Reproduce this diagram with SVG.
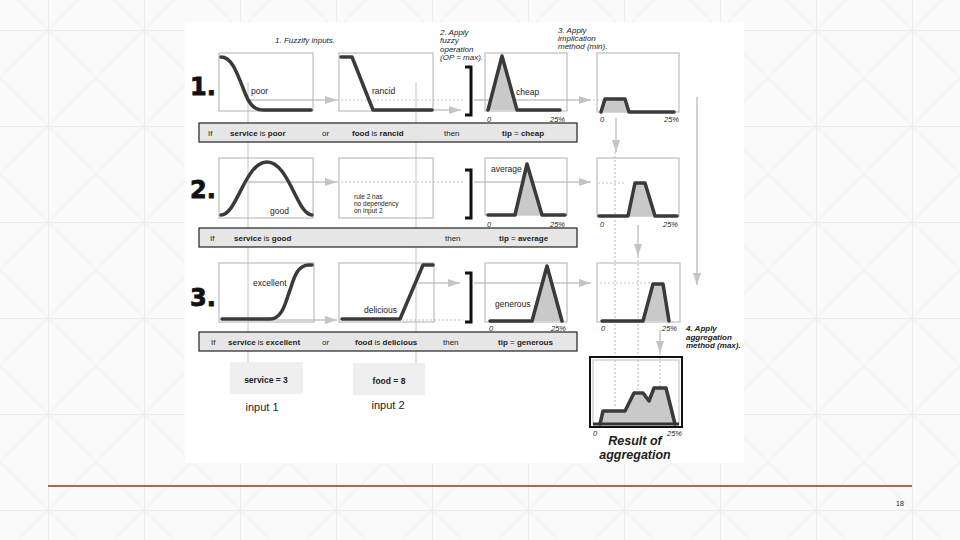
<svg xmlns="http://www.w3.org/2000/svg" width="960" height="540" viewBox="0 0 960 540">
<defs>
<pattern id="grid" x="48" y="30" width="96" height="96" patternUnits="userSpaceOnUse">
<path d="M0,0.5 H96 M0.5,0 V96 M0,0 L96,96 M96,0 L0,96" stroke="#ececec" stroke-width="1" fill="none"/>
</pattern>
<marker id="ah" markerUnits="userSpaceOnUse" markerWidth="12" markerHeight="8" refX="12" refY="4" orient="auto">
<path d="M0,0 L12,4 L0,8 Z" fill="#c4c4c4"/>
</marker>
</defs>
<style>
text{font-family:"Liberation Sans",Arial,sans-serif;fill:#222}
.box{fill:none;stroke:#b0b0b0;stroke-width:1}
.mf{fill:none;stroke:#3a3a3a;stroke-width:3.5;stroke-linejoin:round;stroke-linecap:round}
.sh{fill:#c9c9c9;stroke:none}
.lbl{font-size:8.5px}
.ax{font-size:7.5px;font-style:italic}
.bar{fill:#e6e6e6;stroke:#222;stroke-width:1.2}
.bt{font-size:8px}
.b{font-weight:bold}
.br{fill:none;stroke:#111;stroke-width:3}
.step{font-size:8px;font-style:italic}
.num{font-family:"DejaVu Sans",sans-serif;font-weight:bold;font-size:24px;fill:#111;stroke:#111;stroke-width:0.8}
.ar{fill:none;stroke:#c4c4c4;stroke-width:1.5}
.dt{fill:none;stroke:#c4c4c4;stroke-width:1.2;stroke-dasharray:2,2}
.vl{fill:none;stroke:#c4c4c4;stroke-width:1}
</style>
<rect width="960" height="540" fill="#fafafa"/>
<rect width="960" height="540" fill="url(#grid)"/>
<rect x="185" y="22" width="559" height="441" fill="#ffffff"/>

<g id="connectors">
<path class="vl" d="M248,82 V362 M416,82 V363"/>
<path class="ar" d="M248,100 H337" marker-end="url(#ah)"/>
<path class="dt" d="M337,100 H463"/>
<path class="ar" d="M433,110 H461" marker-end="url(#ah)"/>
<path class="ar" d="M474,100 H591" marker-end="url(#ah)"/>
<path class="dt" d="M593,100 H606"/>
<path class="ar" d="M248,182 H337" marker-end="url(#ah)"/>
<path class="dt" d="M337,182 H463"/>
<path class="ar" d="M474,182 H591" marker-end="url(#ah)"/>
<path class="dt" d="M598,183 H625"/>
<path class="ar" d="M248,320 H337" marker-end="url(#ah)"/>
<path class="dt" d="M402,320 H463"/>
<path class="ar" d="M418,283 H460" marker-end="url(#ah)"/>
<path class="ar" d="M474,283 H591" marker-end="url(#ah)"/>
<path class="dt" d="M600,283 H652"/>
<path class="ar" d="M616,118 V152" marker-end="url(#ah)"/>
<path class="dt" d="M615,152 V408"/>
<path class="ar" d="M638,225 V256" marker-end="url(#ah)"/>
<path class="dt" d="M638,256 V393"/>
<path class="ar" d="M660,330 V353" marker-end="url(#ah)"/>
<path class="dt" d="M660,353 V388"/>
<path class="ar" d="M697,97 V285" marker-end="url(#ah)"/>
</g>

<g id="labels">
<text class="step" x="275" y="43">1. Fuzzify inputs.</text>
<text class="step" x="440" y="35">2. Apply</text>
<text class="step" x="440" y="43">fuzzy</text>
<text class="step" x="440" y="52">operation</text>
<text class="step" x="440" y="60">(OP = max).</text>
<text class="step" x="558" y="33">3. Apply</text>
<text class="step" x="558" y="41">implication</text>
<text class="step" x="558" y="49">method (min).</text>
<text class="step b" x="686" y="331">4. Apply</text>
<text class="step b" x="686" y="340">aggregation</text>
<text class="step b" x="686" y="348">method (max).</text>
<text class="num" x="190" y="95">1.</text>
<text class="num" x="190" y="198">2.</text>
<text class="num" x="190" y="306">3.</text>
</g>

<g id="r1-service">
<rect class="box" x="219" y="53" width="94" height="58"/>
<path class="mf" d="M221,57 C231,57 236,70 243,88 C249,104 253,110 264,110 L311,110"/>
<text class="lbl" x="251" y="94">poor</text>
</g>
<g id="r1-food">
<rect class="box" x="339" y="53" width="94" height="58"/>
<path class="mf" d="M341,57 L352,57 L373,110 L432,110"/>
<text class="lbl" x="372" y="94">rancid</text>
</g>
<g id="r1-op"><path class="br" d="M465,67 H471 V115 H465"/></g>
<g id="r1-tip">
<rect class="box" x="485" y="53" width="82" height="58"/>
<path class="sh" d="M488,110 L502,56 L517,110 Z"/>
<path class="mf" d="M488,110 L502,56 L517,110 L560,110"/>
<text class="lbl" x="516" y="95">cheap</text>
<text class="ax" x="487" y="122">0</text>
<text class="ax" x="565" y="122" text-anchor="end">25%</text>
</g>
<g id="r1-impl">
<rect class="box" x="597" y="53" width="82" height="59"/>
<path class="sh" d="M601,112 L605,99 L625,99 L629,112 Z"/>
<path class="mf" d="M601,112 L605,99 L625,99 L629,112 L674,112"/>
<text class="ax" x="600" y="122">0</text>
<text class="ax" x="679" y="122" text-anchor="end">25%</text>
</g>
<g id="r1-rule">
<rect class="bar" x="199" y="123" width="378" height="19"/>
<text class="bt" x="208" y="136">If</text>
<text class="bt" x="230" y="136"><tspan class="b">service</tspan> is <tspan class="b">poor</tspan></text>
<text class="bt" x="322" y="136">or</text>
<text class="bt" x="352" y="136"><tspan class="b">food</tspan> is <tspan class="b">rancid</tspan></text>
<text class="bt" x="444" y="136">then</text>
<text class="bt" x="502" y="136"><tspan class="b">tip</tspan> = <tspan class="b">cheap</tspan></text>
</g>

<g id="r2-service">
<rect class="box" x="219" y="158" width="94" height="60"/>
<path class="mf" d="M221,215 C237,215 245,162 267,162 C289,162 297,215 312,215"/>
<text class="lbl" x="270" y="214">good</text>
</g>
<g id="r2-food">
<rect class="box" x="339" y="158" width="94" height="60"/>
<text x="354" y="199" font-size="6.5">rule 2 has</text>
<text x="354" y="206" font-size="6.5">no dependency</text>
<text x="354" y="213" font-size="6.5">on input 2</text>
</g>
<g id="r2-op"><path class="br" d="M465,170 H471 V218 H465"/></g>
<g id="r2-tip">
<rect class="box" x="485" y="158" width="82" height="57"/>
<path class="sh" d="M515,215 L527,164 L542,215 Z"/>
<path class="mf" d="M488,215 L515,215 L527,164 L542,215 L565,215"/>
<text class="lbl" x="491" y="172">average</text>
<text class="ax" x="487" y="227">0</text>
<text class="ax" x="565" y="227" text-anchor="end">25%</text>
</g>
<g id="r2-impl">
<rect class="box" x="597" y="158" width="82" height="58"/>
<path class="sh" d="M628,216 L635,183 L645,183 L655,216 Z"/>
<path class="mf" d="M599,216 L628,216 L635,183 L645,183 L655,216 L677,216"/>
<text class="ax" x="600" y="227">0</text>
<text class="ax" x="678" y="227" text-anchor="end">25%</text>
</g>
<g id="r2-rule">
<rect class="bar" x="199" y="228" width="378" height="19"/>
<text class="bt" x="210" y="241">If</text>
<text class="bt" x="234" y="241"><tspan class="b">service</tspan> is <tspan class="b">good</tspan></text>
<text class="bt" x="445" y="241">then</text>
<text class="bt" x="499" y="241"><tspan class="b">tip</tspan> = <tspan class="b">average</tspan></text>
</g>

<g id="r3-service">
<rect class="box" x="219" y="263" width="95" height="59"/>
<path class="mf" d="M222,319 L270,319 C283,319 286,300 290,290 C294,278 297,265 309,265 L312,265"/>
<text class="lbl" x="253" y="286">excellent</text>
</g>
<g id="r3-food">
<rect class="box" x="339" y="263" width="95" height="59"/>
<path class="mf" d="M342,319 L400,319 L423,265 L433,265"/>
<text class="lbl" x="364" y="313">delicious</text>
</g>
<g id="r3-op"><path class="br" d="M465,273 H471 V322 H465"/></g>
<g id="r3-tip">
<rect class="box" x="485" y="263" width="82" height="59"/>
<path class="sh" d="M532,321 L547,266 L562,321 Z"/>
<path class="mf" d="M490,321 L532,321 L547,266 L562,321"/>
<text class="lbl" x="495" y="307">generous</text>
<text class="ax" x="489" y="331">0</text>
<text class="ax" x="566" y="331" text-anchor="end">25%</text>
</g>
<g id="r3-impl">
<rect class="box" x="597" y="263" width="83" height="59"/>
<path class="sh" d="M643,321 L653,284 L663,284 L669,321 Z"/>
<path class="mf" d="M602,321 L643,321 L653,284 L663,284 L669,321"/>
<text class="ax" x="601" y="331">0</text>
<text class="ax" x="677" y="331" text-anchor="end">25%</text>
</g>
<g id="r3-rule">
<rect class="bar" x="199" y="332" width="378" height="19"/>
<text class="bt" x="211" y="345">If</text>
<text class="bt" x="228" y="345"><tspan class="b">service</tspan> is <tspan class="b">excellent</tspan></text>
<text class="bt" x="322" y="345">or</text>
<text class="bt" x="355" y="345"><tspan class="b">food</tspan> is <tspan class="b">delicious</tspan></text>
<text class="bt" x="443" y="345">then</text>
<text class="bt" x="498" y="345"><tspan class="b">tip</tspan> = <tspan class="b">generous</tspan></text>
</g>

<g id="aggregation">
<rect x="590" y="357" width="92" height="70" fill="none" stroke="#111" stroke-width="2"/>
<rect x="593" y="360" width="86" height="64" fill="none" stroke="#bbb" stroke-width="1"/>
<path class="sh" d="M600,424 L603,411 L625,411 L634,393 L643,393 L649,401 L654,388 L666,388 L675,424 Z"/>
<path class="mf" d="M600,424 L603,411 L625,411 L634,393 L643,393 L649,401 L654,388 L666,388 L675,424"/>
<path d="M593,424 H679" stroke="#333" stroke-width="3"/>
<text class="ax" x="593" y="436">0</text>
<text class="ax" x="682" y="436" text-anchor="end">25%</text>
<text x="635" y="445" font-size="12.5" font-weight="bold" font-style="italic" text-anchor="middle">Result of</text>
<text x="635" y="459" font-size="12.5" font-weight="bold" font-style="italic" text-anchor="middle">aggregation</text>
</g>

<g id="input1">
<rect x="230" y="362" width="73" height="32" fill="#efefef"/>
<text x="266" y="383" font-size="8.5" font-weight="bold" text-anchor="middle">service = 3</text>
<text x="262" y="411" font-size="11" text-anchor="middle">input 1</text>
</g>
<g id="input2">
<rect x="353" y="363" width="72" height="32" fill="#efefef"/>
<text x="389" y="384" font-size="8.5" font-weight="bold" text-anchor="middle">food = 8</text>
<text x="388" y="409" font-size="11" text-anchor="middle">input 2</text>
</g>

<g id="footer">
<path d="M48,486 H912" stroke="#b5654a" stroke-width="2"/>
<text x="900" y="506" font-size="7" fill="#888" text-anchor="middle">18</text>
</g>
</svg>
